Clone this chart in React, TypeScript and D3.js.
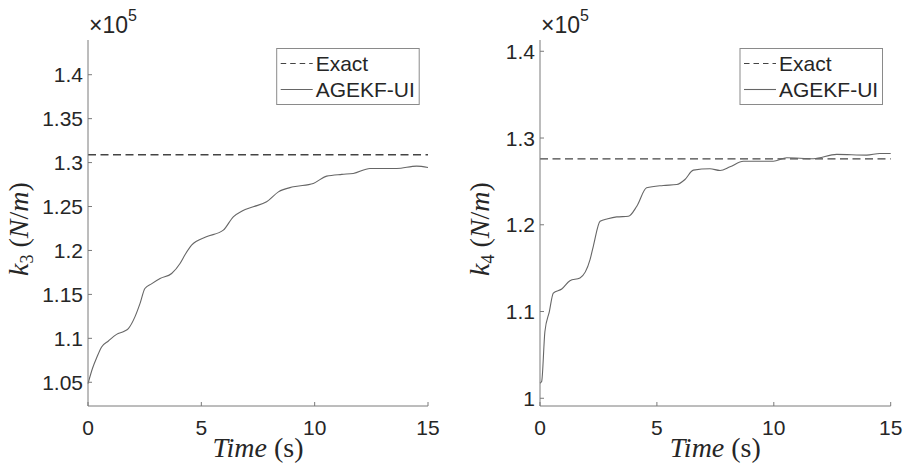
import React from "react";
import * as d3 from "d3";

// ---- data ----
const leftTime = [0, 0.2, 0.4, 0.6, 0.9, 1.26, 1.6, 1.78, 2.07, 2.3, 2.51, 2.8, 3.18, 3.69, 4.06, 4.3, 4.57, 5.22, 5.97, 6.41, 6.8, 7.29, 7.88, 8.4, 9.06, 9.94, 10.53, 11.2, 11.7, 12.44, 13.62, 14.5, 15];
const leftK3 = [1.0485, 1.066, 1.079, 1.0902, 1.097, 1.1045, 1.108, 1.1111, 1.1244, 1.14, 1.1567, 1.162, 1.1681, 1.1738, 1.1852, 1.196, 1.206, 1.2155, 1.2231, 1.2383, 1.245, 1.2497, 1.2554, 1.2667, 1.2724, 1.2763, 1.2846, 1.2866, 1.2876, 1.2933, 1.2933, 1.296, 1.2945];
const leftExact = 1.309;

const rightTime = [0, 0.07, 0.21, 0.4, 0.57, 0.93, 1.28, 1.71, 2.14, 2.28, 2.57, 2.9, 3.28, 3.78, 4.14, 4.56, 5.27, 5.85, 6.2, 6.56, 7.27, 7.7, 8.13, 8.7, 9.98, 10.55, 11.69, 12.69, 13.97, 14.54, 15];
const rightK4 = [1.0174, 1.0193, 1.077, 1.1, 1.1213, 1.126, 1.1356, 1.1387, 1.1598, 1.1752, 1.204, 1.207, 1.2091, 1.2098, 1.2214, 1.2426, 1.2453, 1.2464, 1.2522, 1.263, 1.2645, 1.2626, 1.2668, 1.2733, 1.2733, 1.2772, 1.2761, 1.2811, 1.2803, 1.2822, 1.2822];
const rightExact = 1.276;

const xTicks = [0, 5, 10, 15];
const leftYTicks = [1.05, 1.1, 1.15, 1.2, 1.25, 1.3, 1.35, 1.4];
const rightYTicks = [1, 1.1, 1.2, 1.3, 1.4];
const legendLabels = ["Exact", "AGEKF-UI"];

const TEXT = "#262626";
const AXIS = "#7a7a7a";
const SANS = "'Liberation Sans', Arial, Helvetica, sans-serif";
const SERIF = "'Liberation Serif', 'Times New Roman', serif";

type PanelProps = {
  x0: number; x1: number; yTop: number; yBot: number;
  yDomain: [number, number];
  yTicks: number[];
  time: number[]; vals: number[]; exact: number;
  sub: string;
  legendX: number;
  labelX: number;
};

function fmt(v: number) {
  return String(+v.toFixed(2));
}

function Panel(p: PanelProps) {
  const xs = d3.scaleLinear().domain([0, 15]).range([p.x0, p.x1]);
  const ys = d3.scaleLinear().domain(p.yDomain).range([p.yBot, p.yTop]);
  const line = d3.line<number>()
    .x((_, i) => xs(p.time[i]))
    .y((d) => ys(d))
    .curve(d3.curveMonotoneX);
  const pts = p.vals;
  const midY = (p.yTop + p.yBot) / 2 + 6;
  const lx = p.legendX;
  return (
    <g>
      {/* exact */}
      <line x1={xs(0)} x2={xs(15)} y1={ys(p.exact)} y2={ys(p.exact)} stroke="#444" strokeWidth={1.4} strokeDasharray="8,4.5" />
      {/* estimate */}
      <path d={line(pts) || ""} fill="none" stroke="#666" strokeWidth={1.1} />
      {/* axes */}
      <line x1={p.x0} x2={p.x0} y1={p.yTop} y2={p.yBot} stroke={AXIS} strokeWidth={1} />
      <line x1={p.x0} x2={p.x1} y1={p.yBot} y2={p.yBot} stroke={AXIS} strokeWidth={1} />
      {xTicks.map((t) => (
        <g key={"xt" + t}>
          <line x1={xs(t)} x2={xs(t)} y1={p.yBot} y2={p.yBot - 4} stroke={AXIS} />
          <text x={xs(t)} y={p.yBot + 29} textAnchor="middle" fontFamily={SANS} fontSize={21} fill={TEXT}>{t}</text>
        </g>
      ))}
      {p.yTicks.map((t) => (
        <g key={"yt" + t}>
          <line x1={p.x0} x2={p.x0 + 4} y1={ys(t)} y2={ys(t)} stroke={AXIS} />
          <text x={p.x0 - 5} y={ys(t) + 7.5} textAnchor="end" fontFamily={SANS} fontSize={21} fill={TEXT}>{fmt(t)}</text>
        </g>
      ))}
      {/* multiplier */}
      <text x={p.x0 + 1} y={33} fontFamily={SANS} fontSize={23} fill={TEXT}>
        <tspan fontSize={23}>×10</tspan>
        <tspan fontSize={16} dy={-12}>5</tspan>
      </text>
      {/* x label */}
      <text x={(p.x0 + p.x1) / 2} y={457} textAnchor="middle" fontFamily={SERIF} fontSize={28} fill={TEXT}>
        <tspan fontStyle="italic">Time</tspan>
        <tspan> (s)</tspan>
      </text>
      {/* y label */}
      <text transform={`translate(${p.labelX},${midY}) rotate(-90)`} textAnchor="middle" fontFamily={SERIF} fontSize={28} fill={TEXT}>
        <tspan fontStyle="italic">k</tspan>
        <tspan fontSize={18} dy={5}>{p.sub}</tspan>
        <tspan dy={-5}> (</tspan>
        <tspan fontStyle="italic">N</tspan>
        <tspan>/</tspan>
        <tspan fontStyle="italic">m</tspan>
        <tspan>)</tspan>
      </text>
      {/* legend */}
      <rect x={lx} y={48.5} width={142.5} height={56} fill="#fff" stroke="#8a8a8a" strokeWidth={1} />
      <line x1={lx + 4} x2={lx + 36} y1={63.5} y2={63.5} stroke="#444" strokeWidth={1.2} strokeDasharray="5.5,4" />
      <text x={lx + 39} y={71} fontFamily={SANS} fontSize={21} fill={TEXT}>{legendLabels[0]}</text>
      <line x1={lx + 4} x2={lx + 36} y1={89.5} y2={89.5} stroke="#666" strokeWidth={1.1} />
      <text x={lx + 39} y={97} fontFamily={SANS} fontSize={21} fill={TEXT}>{legendLabels[1]}</text>
    </g>
  );
}

export default function App() {
  return (
    <svg width={904} height={468} style={{ position: "absolute", left: 0, top: 0, background: "#fff" }}>
      <rect x={0} y={0} width={904} height={468} fill="#fff" />
      <Panel x0={88} x1={428} yTop={40} yBot={406} yDomain={[1.023, 1.4395]} yTicks={leftYTicks}
        time={leftTime} vals={leftK3} exact={leftExact} sub="3" legendX={276.7} labelX={28} />
      <Panel x0={540} x1={890.7} yTop={40} yBot={406} yDomain={[0.9911, 1.413]} yTicks={rightYTicks}
        time={rightTime} vals={rightK4} exact={rightExact} sub="4" legendX={740} labelX={489} />
    </svg>
  );
}
